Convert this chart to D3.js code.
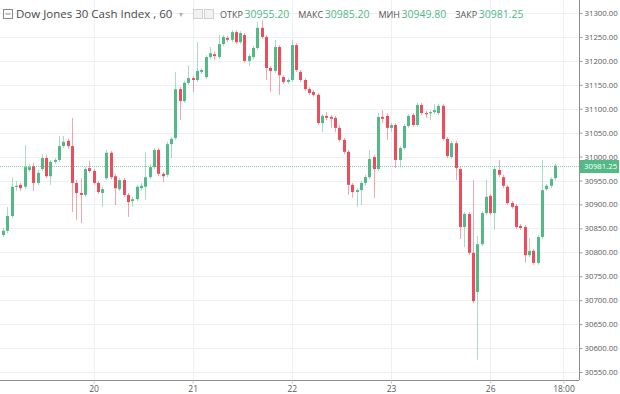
<!DOCTYPE html>
<html>
<head>
<meta charset="utf-8">
<script src="https://cdnjs.cloudflare.com/ajax/libs/d3/7.8.5/d3.min.js"></script>
<style>
  body { margin: 0; background: #fff; }
  svg { display: block; font-family: "Open Sans", sans-serif; }
</style>
</head>
<body>
<svg id="chart" width="620" height="394"></svg>
<script>
// hourly candles
const opens = [30836,30845,30876,30937,30941,30937,30972,30980,30945,30974,30997,30959,30989,30993,31022,31033,31022,30945,30924,30920,
  30976,30970,30945,30924,30955,31008,30959,30932,30951,30920,30907,30911,30934,30937,30957,30978,31014,30964,30962,31026,
  31039,31141,31116,31154,31164,31160,31177,31166,31208,31214,31208,31235,31248,31244,31260,31239,31254,31200,31208,31227,
  31269,31250,31185,31179,31229,31166,31156,31160,31233,31177,31160,31141,31135,31129,31070,31085,31083,31081,31060,31035,
  31010,30941,30926,30930,30945,30957,30999,30974,31083,31085,31060,31066,30993,31018,31064,31087,31066,31108,31091,31091,
  31093,31091,31106,31037,30999,31028,30974,30853,30880,30799,30717,30817,30882,30918,30882,30972,30957,30937,30903,30897,
  30855,30853,30794,30803,30778,30832,30932,30939,30955.2];
const highs = [30851,30895,30957,30949,30945,31024,30985,30987,30972,31005,31003,30993,30997,31043,31043,31037,31081,30951,30955,30978,
  30991,30974,30949,30937,31014,31012,30964,30955,30955,30924,30916,30941,30945,31010,30983,31018,31018,30968,31031,31041,
  31177,31145,31158,31191,31168,31239,31185,31212,31229,31219,31254,31254,31252,31264,31264,31262,31258,31214,31231,31281,
  31285,31254,31189,31244,31233,31170,31164,31244,31237,31181,31164,31145,31139,31133,31089,31093,31087,31085,31066,31039,
  31014,30945,30934,30949,30962,31014,31003,31091,31097,31091,31070,31070,31022,31068,31089,31091,31112,31112,31095,31097,
  31110,31110,31110,31041,31033,31033,30978,30884,30884,30951,30834,30886,30951,30922,30978,30993,30962,30941,30907,30901,
  30859,30857,30830,30807,30836,30993,30943,30957,30985.2];
const lows = [30832,30840,30872,30928,30928,30932,30968,30928,30941,30970,30955,30941,30985,30989,31018,31016,30884,30868,30861,30916,
  30966,30941,30922,30895,30951,30953,30899,30928,30916,30874,30895,30907,30930,30909,30953,30974,30959,30947,30957,30997,
  31035,31076,31112,31150,31135,31156,31173,31162,31204,31202,31204,31231,31239,31239,31235,31235,31196,31189,31204,31223,
  31246,31160,31135,31175,31129,31152,31152,31156,31177,31156,31137,31129,31125,31066,31051,31076,31060,31051,31031,31005,
  30920,30914,30895,30899,30939,30953,30914,30970,31070,31035,31051,30976,30978,31014,31060,31062,31062,31087,31081,31076,
  31089,31087,31033,30997,30995,30951,30828,30811,30794,30694,30575,30813,30878,30878,30847,30957,30934,30899,30891,30849,
  30847,30778,30790,30774,30774,30828,30928,30934,30949.8];
const closes = [30845,30876,30937,30939,30934,30978,30978,30945,30966,30997,30959,30989,30993,31022,31031,31022,30945,30924,30920,30974,
  30970,30945,30926,30932,31008,30957,30934,30951,30920,30905,30911,30937,30939,30957,30978,31014,30964,30959,31026,31037,
  31141,31116,31154,31164,31160,31179,31181,31208,31216,31210,31235,31250,31244,31260,31239,31258,31200,31210,31227,31269,
  31250,31185,31179,31229,31170,31156,31160,31233,31181,31160,31141,31133,31129,31070,31085,31081,31079,31060,31035,31010,
  30941,30926,30930,30945,30957,30995,30974,31083,31079,31060,31066,30993,31018,31064,31085,31066,31108,31091,31089,31093,
  31097,31106,31037,31001,31028,30976,30853,30880,30799,30698,30817,30882,30916,30882,30974,30962,30939,30903,30895,30853,
  30851,30794,30803,30778,30832,30930,30939,30953,30981.25];

const priceTicks = [30550,30600,30650,30700,30750,30800,30850,30900,30950,31000,31050,31100,31150,31200,31250,31300];
const dayTickIndex = [21, 44, 67, 90, 113, 130];
const dayTickLabels = ['20', '21', '22', '23', '26', '18:00'];

const symbolName = 'Dow Jones 30 Cash Index , 60';
const legendKeys = ['ОТКР', 'МАКС', 'МИН', 'ЗАКР'];
const legendVals = [30955.20, 30985.20, 30949.80, 30981.25];

const upColor = '#53b987', downColor = '#eb4d5c';
const W = 579, H = 380;

const svg = d3.select('#chart');
const candles = opens.map((o, i) => ({i, o, h: highs[i], l: lows[i], c: closes[i]}));

const x = d3.scaleLinear().domain([-0.7, 133.6]).range([0, W]);
const y = d3.scaleLinear().domain([30550, 31300]).range([372, 13]);
const px = v => Math.round(x(v)) + 0.5;

//grid
const grid = svg.append('g');
grid.selectAll('line.h').data(priceTicks).join('line')
  .attr('x1', 0).attr('x2', W)
  .attr('y1', d => Math.round(y(d)) + 0.5).attr('y2', d => Math.round(y(d)) + 0.5)
  .attr('stroke', '#eef0f4');
grid.selectAll('line.v').data(dayTickIndex).join('line')
  .attr('x1', d => px(d)).attr('x2', d => px(d))
  .attr('y1', 0).attr('y2', H)
  .attr('stroke', '#eef0f4');

//candles
const cg = svg.append('g');
cg.selectAll('line').data(candles).join('line')
  .attr('x1', d => px(d.i)).attr('x2', d => px(d.i))
  .attr('y1', d => y(d.h)).attr('y2', d => y(d.l))
  .attr('stroke', d => d.c >= d.o ? upColor : downColor)
  .attr('stroke-opacity', 0.5);
cg.selectAll('rect').data(candles).join('rect')
  .attr('x', d => Math.round(x(d.i)) - 1)
  .attr('width', 3)
  .attr('y', d => y(Math.max(d.o, d.c)))
  .attr('height', d => Math.max(1.2, Math.abs(y(d.o) - y(d.c))))
  .attr('fill', d => d.c >= d.o ? upColor : downColor);

//last price line
const last = closes[closes.length - 1];
svg.append('line')
  .attr('x1', 0).attr('x2', W)
  .attr('y1', Math.round(y(last)) + 0.5).attr('y2', Math.round(y(last)) + 0.5)
  .attr('stroke', upColor).attr('stroke-opacity', 0.7)
  .attr('stroke-dasharray', '1,1');

//axes
const yAxis = svg.append('g')
  .attr('transform', `translate(${W + 0.5},0)`)
  .call(d3.axisRight(y).tickValues(priceTicks).tickFormat(d3.format('.2f')).tickSize(3).tickSizeOuter(0));
yAxis.select('.domain').attr('d', `M0,0V${H}`).attr('stroke', '#8c8c8c');
yAxis.selectAll('line').attr('stroke', '#9a9a9a');
yAxis.selectAll('text').attr('x', 5).attr('fill', '#5a5a5a').style('font-size', '7.8px').style('font-family', 'Open Sans');

const xAxis = svg.append('g')
  .attr('transform', `translate(0,${H + 0.5})`)
  .call(d3.axisBottom(x).tickValues(dayTickIndex).tickFormat((d, i) => dayTickLabels[i]).tickSize(3).tickSizeOuter(0));
xAxis.select('.domain').attr('d', `M0,0H${W}`).attr('stroke', '#8c8c8c');
xAxis.selectAll('line').attr('stroke', '#c8c8c8');
xAxis.selectAll('text').attr('y', 5).attr('fill', '#5a5a5a').style('font-size', '8.5px').style('font-family', 'Open Sans');

//price label
const lg = svg.append('g').attr('transform', `translate(${W + 1},${Math.round(y(last))})`);
lg.append('rect').attr('x', 0).attr('y', -6).attr('width', 39).attr('height', 13).attr('fill', upColor);
lg.append('text').attr('x', 4).attr('y', 3.3).attr('fill', '#fff')
  .style('font-size', '7.8px').text(d3.format('.2f')(last));

//header
const hd = svg.append('g');
hd.append('rect').attr('x', 3.5).attr('y', 9.5).attr('width', 9).attr('height', 9)
  .attr('fill', 'none').attr('stroke', '#8a8a8a');
hd.append('line').attr('x1', 5.5).attr('x2', 10.5).attr('y1', 14).attr('y2', 14).attr('stroke', '#8a8a8a');
hd.append('text').attr('x', 16).attr('y', 18).attr('fill', '#4a4a4a')
  .style('font-size', '11.5px').text(symbolName);
hd.append('text').attr('x', 179).attr('y', 17).attr('fill', '#b0b0b0')
  .style('font-size', '8px').text('▾');
[193, 204].forEach(bx => {
  hd.append('rect').attr('x', bx + 0.5).attr('y', 9.5).attr('width', 9).attr('height', 9)
    .attr('fill', '#f2f2f2').attr('stroke', '#d0d0d0');
});
let lx = 220;
legendKeys.forEach((k, i) => {
  const t1 = hd.append('text').attr('x', lx).attr('y', 18).attr('fill', '#555')
    .style('font-size', '9px').text(k);
  lx += t1.node().getComputedTextLength() + 1.5;
  const t2 = hd.append('text').attr('x', lx).attr('y', 18).attr('fill', upColor)
    .style('font-size', '10.5px').text(d3.format('.2f')(legendVals[i]));
  lx += t2.node().getComputedTextLength() + 9;
});
</script>
</body>
</html>
